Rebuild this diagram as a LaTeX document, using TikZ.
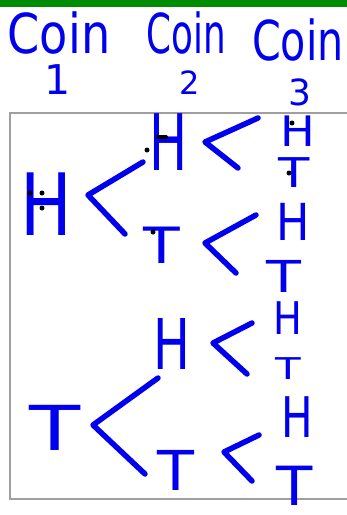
\documentclass[tikz,border=0pt]{standalone}
\usepackage{graphicx}
\usepackage{fontspec}
\setmainfont{DejaVu Sans}
\usepackage{tikz}
\definecolor{penblue}{RGB}{0,0,238}
\definecolor{topgreen}{RGB}{0,140,0}
\newcommand{\handtxt}[3]{\fontsize{#1}{#1}\selectfont\scalebox{#2}[1]{#3}}

\begin{document}
\begin{tikzpicture}[x=1pt,y=-1pt,
  letter/.style={text=penblue,inner sep=0pt},
  branch/.style={draw=penblue,line width=5.5pt,line cap=round,line join=round},
  speck/.style={fill=black}]
\useasboundingbox (0,0) rectangle (347,515);
\fill[topgreen] (0,0) rectangle (347,7);
\draw[gray!75,line width=2pt] (347,113) -- (10,113) -- (10,499) -- (347,499);

% headings
\node[letter,anchor=base] (coin1) at (59,53) {\handtxt{55}{0.84}{Coin}};
\node[letter] (num1) at (58,80) {\handtxt{41}{1}{1}};
\node[letter,anchor=base] (coin2) at (186,53) {\handtxt{55}{0.65}{Coin}};
\node[letter] (num2) at (190,83) {\handtxt{32}{1}{2}};
\node[letter,anchor=base] (coin3) at (298,60) {\handtxt{55}{0.75}{Coin}};
\node[letter] (num3) at (300,92) {\handtxt{36}{1}{3}};

% first and second coin
\node[letter] (h) at (46,204) {\handtxt{86}{0.8}{H}};
\node[letter] (t) at (55,428) {\handtxt{62}{1.35}{T}};
\node[letter] (hh) at (169,142) {\handtxt{78}{0.65}{H}};
\node[letter] (ht) at (162,245) {\handtxt{50}{1.2}{T}};
\node[letter] (th) at (172,344) {\handtxt{70}{0.7}{H}};
\node[letter] (tt) at (176,470) {\handtxt{55}{1.1}{T}};

% third coin
\foreach \nm/\x/\y/\s/\k/\t in {hhh/298/131/42/1.1/H, hht/294/173/41/1.25/T,
    hth/293/222/51/0.87/H, htt/284/276/44/1.3/T,
    thh/288/318/45/0.85/H, tht/288/369/30/1.4/T,
    tth/297/417/56/0.75/H, ttt/295/486/54/1.1/T}
  \node[letter] (\nm) at (\x,\y) {\handtxt{\s}{\k}{\t}};

% branches
\coordinate (b1u) at (143,162); \coordinate (b1v) at (88,195); \coordinate (b1d) at (125,234);
\coordinate (b2u) at (258,118); \coordinate (b2v) at (205,142); \coordinate (b2d) at (238,168);
\coordinate (b3u) at (256,215); \coordinate (b3v) at (205,243); \coordinate (b3d) at (236,273);
\coordinate (b4u) at (158,378); \coordinate (b4v) at (93,425); \coordinate (b4d) at (145,474);
\coordinate (b5u) at (252,323); \coordinate (b5v) at (213,343); \coordinate (b5d) at (247,374);
\coordinate (b6u) at (259,435); \coordinate (b6v) at (224,452); \coordinate (b6d) at (252,481);
\foreach \b in {b1,b2,b3,b4,b5,b6}
  \draw[branch] (\b u) -- (\b v) -- (\b d);

% stray dots
\foreach \x/\y in {30/193,42/193,42/208,147/150,153/232,292/123,289/173}
  \fill[speck] (\x,\y) circle (2.5);
\draw[black,line width=4pt,line cap=round] (158,137) -- (166,137);
\end{tikzpicture}
\end{document}
